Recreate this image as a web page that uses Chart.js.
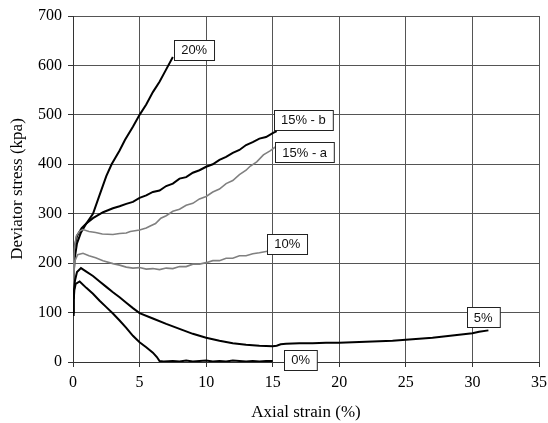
<!DOCTYPE html>
<html>
<head>
<meta charset="utf-8">
<script src="https://cdn.jsdelivr.net/npm/chart.js@4/dist/chart.umd.min.js"></script>
<style>
  body { margin: 0; background: #fff; }
  canvas { display: block; }
</style>
</head>
<body>
<canvas id="chart" width="548" height="423"></canvas>
<script>
// Deviator stress vs axial strain, one curve per content level

const xTicks = [0, 5, 10, 15, 20, 25, 30, 35];
const yTicks = [0, 100, 200, 300, 400, 500, 600, 700];

const strain0 = [0, 0.05, 0.1, 0.2, 0.5, 1, 1.5, 2, 2.5, 3, 3.5, 4, 4.5, 5, 5.5, 6, 6.3, 6.5, 6.8, 7.5, 8, 8.5, 9, 9.5, 10, 10.5, 11, 11.5, 12, 12.5, 13, 13.5, 14, 14.5, 15];
const stress0 = [95, 125, 145, 158, 163, 150, 138, 124, 111, 98, 84, 69, 53, 40, 30, 19, 10, 2, 1, 2, 1, 3, 1, 2, 3, 1, 2, 1, 3, 2, 1, 2, 1, 2, 2];

const strain5 = [0, 0.05, 0.15, 0.3, 0.6, 1, 1.5, 2, 2.5, 3, 3.5, 4, 4.5, 5, 6, 7, 8, 9, 10, 11, 12, 13, 14, 15, 15.3, 15.6, 16, 17, 18, 19, 20, 21, 22, 23, 24, 25, 26, 27, 28, 29, 30, 30.5, 31.2];
const stress5 = [100, 140, 165, 182, 190, 183, 174, 163, 152, 141, 131, 120, 109, 99, 88, 77, 67, 57, 49, 43, 38, 35, 33, 32, 33, 36, 37, 38, 38, 39, 39, 40, 41, 42, 43, 45, 47, 49, 52, 55, 58, 61, 64];

const strain10 = [0, 0.05, 0.15, 0.35, 0.75, 1.2, 1.7, 2.25, 3, 3.5, 4, 4.5, 5, 5.5, 6, 6.5, 7, 7.5, 8, 8.5, 9, 9.5, 10, 10.5, 11, 11.5, 12, 12.5, 13, 13.5, 14, 14.6, 15];
const stress10 = [130, 175, 205, 217, 220, 215, 211, 205, 199, 196, 192, 190, 191, 188, 189, 187, 190, 189, 193, 193, 198, 198, 201, 205, 205, 210, 210, 215, 215, 219, 221, 224, 226];

const strain15a = [0, 0.05, 0.1, 0.25, 0.5, 0.75, 1.2, 1.7, 2.2, 3, 3.5, 4, 4.3, 5, 5.5, 5.8, 6.2, 6.6, 7, 7.5, 8, 8.5, 9, 9.5, 10, 10.5, 11, 11.5, 12, 12.5, 13, 13.3, 13.8, 14.3, 14.8, 15.3];
const stress15a = [140, 200, 230, 255, 265, 268, 264, 262, 259, 258, 260, 261, 264, 267, 271, 275, 280, 291, 296, 305, 309, 317, 321, 330, 335, 344, 350, 361, 367, 379, 388, 396, 405, 419, 427, 437];

const strain15b = [0, 0.05, 0.1, 0.3, 0.65, 1, 1.5, 2.26, 3, 3.5, 4, 4.5, 5, 5.5, 6, 6.5, 7, 7.5, 8, 8.5, 9, 9.5, 10, 10.5, 11, 11.5, 12, 12.5, 13, 13.5, 14, 14.5, 15, 15.3];
const stress15b = [140, 200, 230, 255, 271, 280, 291, 303, 311, 315, 320, 324, 332, 337, 344, 347, 356, 361, 371, 374, 383, 388, 395, 400, 409, 415, 423, 429, 439, 445, 452, 455, 463, 467];

const strain20 = [0, 0.05, 0.13, 0.3, 0.6, 1, 1.5, 2, 2.5, 2.9, 3.5, 3.9, 4.5, 5, 5.5, 6, 6.5, 7, 7.5];
const stress20 = [130, 180, 210, 240, 262, 280, 300, 338, 376, 400, 428, 449, 476, 500, 521, 546, 567, 592, 617];

// label boxes, anchored in data units (box centre)
const curveLabels = [
  { text: '20%', x: 9.1, y: 632 },
  { text: '15% - b', x: 17.3, y: 490 },
  { text: '15% - a', x: 17.4, y: 425 },
  { text: '10%', x: 16.1, y: 239 },
  { text: '5%', x: 30.8, y: 91 },
  { text: '0%', x: 17.1, y: 5 },
];

const BLACK = '#000000';
const GREY = '#808080';

function toPoints(xs, ys) {
  return xs.map((x, i) => ({ x, y: ys[i] }));
}

function curve(label, xs, ys, color, width) {
  return {
    label,
    data: toPoints(xs, ys),
    showLine: true,
    borderColor: color,
    backgroundColor: color,
    borderWidth: width,
    pointRadius: 0,
    tension: 0,
  };
}

const labelBoxes = {
  id: 'labelBoxes',
  afterDatasetsDraw(chart) {
    const { ctx, scales } = chart;
    ctx.save();
    ctx.font = '13px "Liberation Sans", Arial, sans-serif';
    ctx.textAlign = 'center';
    ctx.textBaseline = 'middle';
    for (const l of curveLabels) {
      const cx = scales.x.getPixelForValue(l.x);
      const cy = scales.y.getPixelForValue(l.y);
      const w = ctx.measureText(l.text).width + 14;
      const h = 20;
      const left = Math.round(cx - w / 2) + 0.5;
      const top = Math.round(cy - h / 2) + 0.5;
      ctx.fillStyle = '#fff';
      ctx.fillRect(left, top, w, h);
      ctx.strokeStyle = '#222';
      ctx.lineWidth = 1;
      ctx.strokeRect(left, top, w, h);
      ctx.fillStyle = '#111';
      ctx.fillText(l.text, cx, cy + 1);
    }
    ctx.restore();
  }
};

const serif = { family: '"Liberation Serif", "Times New Roman", serif', size: 16 };

new Chart(document.getElementById('chart'), {
  type: 'scatter',
  data: {
    datasets: [
      curve('0%', strain0, stress0, BLACK, 2),
      curve('5%', strain5, stress5, BLACK, 2),
      curve('10%', strain10, stress10, GREY, 1.6),
      curve('15% - a', strain15a, stress15a, GREY, 1.6),
      curve('15% - b', strain15b, stress15b, BLACK, 2),
      curve('20%', strain20, stress20, BLACK, 2),
    ]
  },
  options: {
    responsive: false,
    animation: false,
    layout: { padding: { top: 16, right: 0, left: 0, bottom: 0 } },
    plugins: {
      legend: { display: false },
      tooltip: { enabled: false }
    },
    scales: {
      x: {
        type: 'linear',
        min: xTicks[0],
        max: xTicks[xTicks.length - 1],
        afterBuildTicks: s => { s.ticks = xTicks.map(v => ({ value: v })); },
        afterFit: s => { s.height = 61; s.paddingRight = 9; s.paddingLeft = 0; },
        grid: { color: '#555', tickLength: 5, tickColor: '#333' },
        border: { color: '#333' },
        ticks: { font: serif, color: '#000', padding: 6, maxRotation: 0 },
        title: {
          display: true,
          text: 'Axial strain (%)',
          font: { family: serif.family, size: 17 },
          color: '#000',
          padding: { top: 0, bottom: 0 }
        }
      },
      y: {
        min: yTicks[0],
        max: yTicks[yTicks.length - 1],
        afterBuildTicks: s => { s.ticks = yTicks.map(v => ({ value: v })); },
        afterFit: s => { s.width = 73; },
        grid: { color: '#555', tickLength: 5, tickColor: '#333' },
        border: { color: '#333' },
        ticks: { font: serif, color: '#000', padding: 6 },
        title: {
          display: true,
          text: 'Deviator stress (kpa)',
          font: { family: serif.family, size: 17 },
          color: '#000',
          padding: { top: 7, bottom: 0 }
        }
      }
    }
  },
  plugins: [labelBoxes]
});
</script>
</body>
</html>
